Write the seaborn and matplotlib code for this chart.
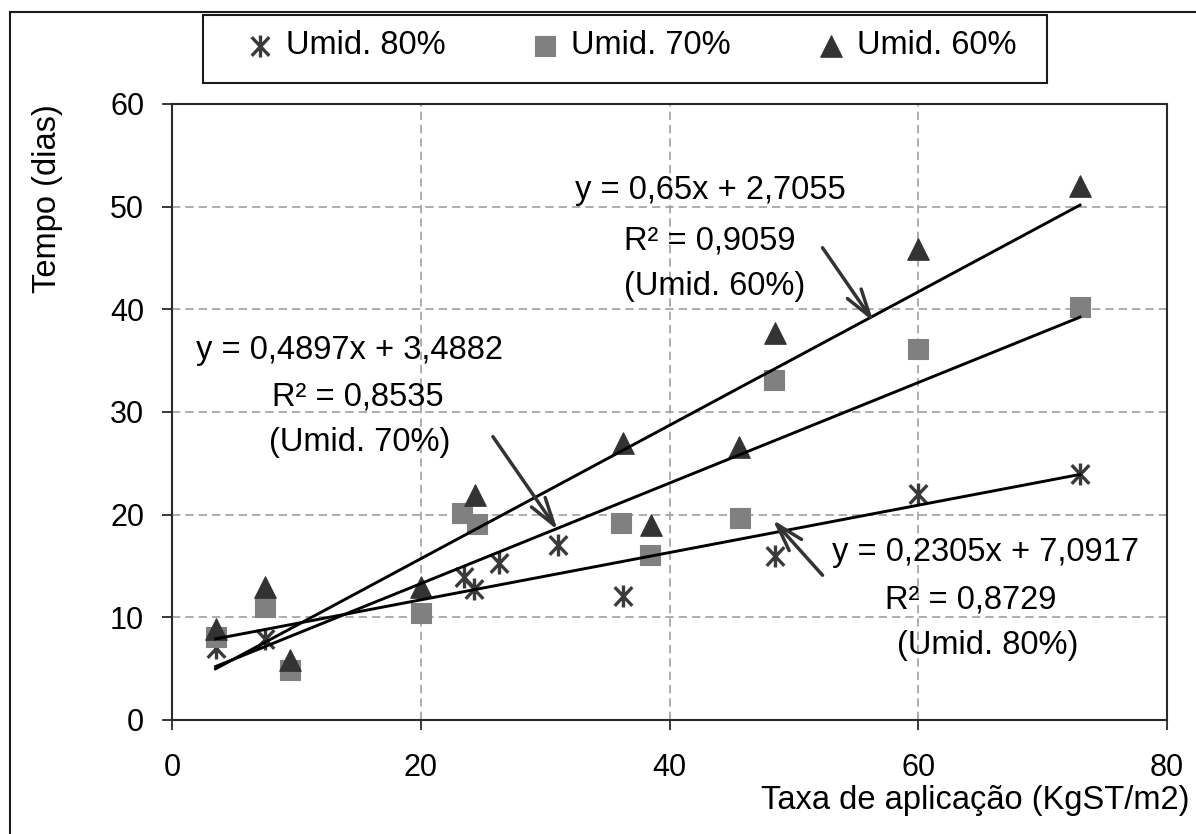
import numpy as np
import pandas as pd
import seaborn as sns
import matplotlib.pyplot as plt
from matplotlib.path import Path
from matplotlib.lines import Line2D
from matplotlib.patches import Rectangle

plt.rcParams['font.family'] = ['Liberation Sans', 'DejaVu Sans']

# --- data -------------------------------------------------------------
series_names = ["Umid. 80%", "Umid. 70%", "Umid. 60%"]

x80 = [3.5, 7.5, 23.5, 24.3, 26.3, 31.0, 36.3, 48.5, 60.0, 73.0]
y80 = [7.0, 7.9, 13.9, 12.8, 15.3, 17.0, 12.1, 16.0, 22.0, 24.0]

x70 = [3.5, 7.5, 9.5, 20.0, 23.3, 24.5, 36.1, 38.4, 45.7, 48.4, 60.0, 73.0]
y70 = [8.1, 11.0, 4.9, 10.4, 20.2, 19.1, 19.2, 16.1, 19.7, 33.1, 36.1, 40.2]

x60 = [3.5, 7.5, 9.5, 20.0, 24.4, 36.3, 38.5, 45.6, 48.5, 60.0, 73.0]
y60 = [8.9, 13.0, 5.8, 13.0, 21.9, 27.0, 19.0, 26.6, 37.7, 45.9, 52.0]

# linear fits (slope, intercept, R²) as printed on the chart
slopes = [0.2305, 0.4897, 0.65]
intercepts = [7.0917, 3.4882, 2.7055]
r2_values = ["0,8729", "0,8535", "0,9059"]
eq_texts = ["y = 0,2305x + 7,0917", "y = 0,4897x + 3,4882", "y = 0,65x + 2,7055"]
fit_range = [3.5, 73.0]

x_ticks = [0, 20, 40, 60, 80]
y_ticks = [0, 10, 20, 30, 40, 50, 60]

# --- figure -----------------------------------------------------------
fig = plt.figure(figsize=(11.96, 8.34), dpi=100)
ax = fig.add_axes([0.1438, 0.1367, 0.832, 0.7386])

# six-armed asterisk marker (vertical bar + X)
ast = Path([(0, -1), (0, 1), (-0.8, -0.85), (0.8, 0.85), (-0.8, 0.85), (0.8, -0.85)],
           [Path.MOVETO, Path.LINETO] * 3)

df80 = pd.DataFrame({"x": x80, "y": y80})
df70 = pd.DataFrame({"x": x70, "y": y70})
df60 = pd.DataFrame({"x": x60, "y": y60})

sns.scatterplot(data=df80, x="x", y="y", marker=ast, s=250, color="#3a3a3a",
                edgecolor="#3a3a3a", linewidth=2.4, label=series_names[0], ax=ax, zorder=3)
sns.scatterplot(data=df70, x="x", y="y", marker="s", s=225, color="#808080",
                edgecolor="#808080", linewidth=0.8, label=series_names[1], ax=ax, zorder=3)
sns.scatterplot(data=df60, x="x", y="y", marker="^", s=240, color="#333333",
                edgecolor="#333333", linewidth=0.8, label=series_names[2], ax=ax, zorder=3)

# trend lines
fx = np.array(fit_range)
for m, b in zip(slopes, intercepts):
    sns.lineplot(x=fx, y=m * fx + b, color="black", linewidth=2.1, ax=ax,
                 zorder=4, legend=False)

# equation labels with arrows
text_kw = dict(fontsize=23.5, ha="center", va="center", color="black", zorder=6)
# Umid. 60%
ax.text(43.3, 51.6, eq_texts[2], **text_kw)
ax.text(43.2, 46.7, "R² = " + r2_values[2], **text_kw)
ax.text(43.6, 42.2, "(Umid. 60%)", **text_kw)
# Umid. 70%
ax.text(14.3, 36.0, eq_texts[1], **text_kw)
ax.text(14.9, 31.5, "R² = " + r2_values[1], **text_kw)
ax.text(15.1, 27.0, "(Umid. 70%)", **text_kw)
# Umid. 80%
ax.text(65.4, 16.3, eq_texts[0], **text_kw)
ax.text(64.2, 11.7, "R² = " + r2_values[0], **text_kw)
ax.text(65.6, 7.3, "(Umid. 80%)", **text_kw)

arrow_kw = dict(arrowstyle="->,head_length=1.0,head_width=0.3", color="#333333",
                lw=2.5, shrinkA=0, shrinkB=0, mutation_scale=20)
ax.annotate("", xy=(56.4, 38.8), xytext=(52.3, 46.0), arrowprops=arrow_kw, zorder=6)
ax.annotate("", xy=(31.0, 18.5), xytext=(25.8, 27.6), arrowprops=arrow_kw, zorder=6)
ax.annotate("", xy=(48.3, 19.5), xytext=(52.3, 14.1), arrowprops=arrow_kw, zorder=6)

# axes styling
ax.set_xlim(0, 80)
ax.set_ylim(0, 60)
ax.set_xticks(x_ticks)
ax.set_yticks(y_ticks)
ax.set_facecolor("white")
ax.grid(True, linestyle=(0, (5, 3)), color="#a0a0a0", linewidth=1.2, zorder=0)
ax.set_axisbelow(True)
for side in ["left", "bottom", "right", "top"]:
    ax.spines[side].set_visible(True)
    ax.spines[side].set_color("#2a2a2a")
    ax.spines[side].set_linewidth(1.5)
ax.tick_params(axis="both", direction="out", length=7, width=1.3, color="#2a2a2a",
               labelsize=22, labelcolor="black")
ax.tick_params(axis="x", pad=17, top=False, bottom=True)
ax.tick_params(axis="y", pad=13, right=False, left=True)

ax.set_xlabel("Taxa de aplicação (KgST/m2)", fontsize=23.5, ha="right", va="center")
ax.xaxis.set_label_coords(1.023, -0.13)
ax.set_ylabel("Tempo (dias)", fontsize=23.5, ha="center", va="center")
ax.yaxis.set_label_coords(-0.1256, 0.847)

# legend in a framed box above the plot
handles, labels = ax.get_legend_handles_labels()
keep = [labels.index(n) for n in series_names]
fig.legend([handles[i] for i in keep], [labels[i] for i in keep],
           loc="center", bbox_to_anchor=(630 / 1196, 1 - 46 / 834), ncol=3,
           frameon=False, fontsize=23.5, handlelength=1.0, handletextpad=0.3,
           columnspacing=2.55, scatterpoints=1)
if ax.get_legend() is not None:
    ax.get_legend().remove()

fig.add_artist(Rectangle((203 / 1196, 1 - 83 / 834), (1047 - 203) / 1196, 68 / 834,
                         transform=fig.transFigure, fill=False, edgecolor="#1a1a1a",
                         linewidth=1.5))

# outer chart border (left and top edges inside the image)
fig.add_artist(Line2D([10 / 1196, 10 / 1196], [0, 1 - 12 / 834], transform=fig.transFigure,
                      color="#1a1a1a", linewidth=1.5))
fig.add_artist(Line2D([10 / 1196, 1], [1 - 12 / 834, 1 - 12 / 834], transform=fig.transFigure,
                      color="#1a1a1a", linewidth=1.5))

fig.savefig("out.png", dpi=100, facecolor="white")
